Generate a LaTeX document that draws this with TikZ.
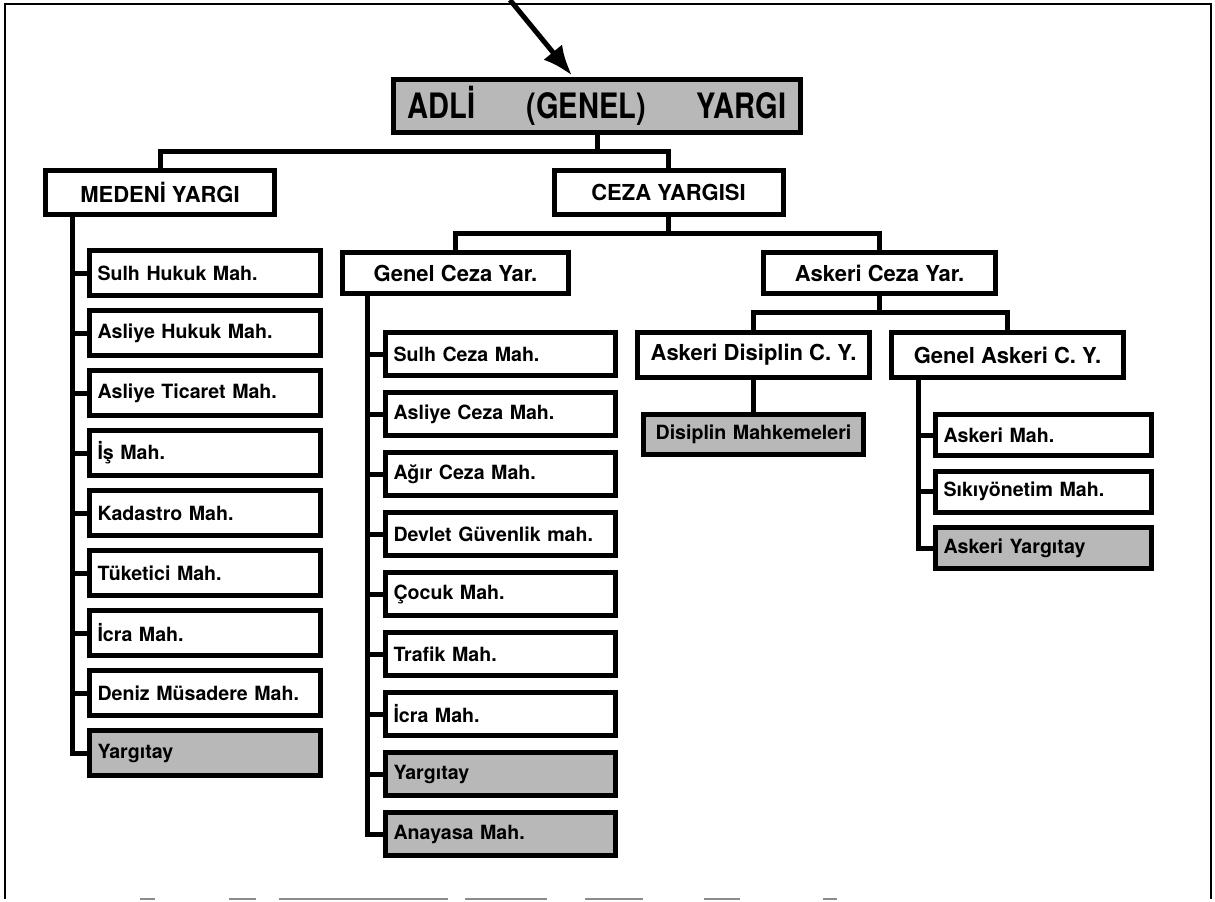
\documentclass[tikz,border=0pt]{standalone}
\usepackage{fontspec}
\setmainfont{TeX Gyre Heros}
\usepackage{tikz}
\usetikzlibrary{arrows.meta}
\tikzstyle{frame} = [draw,line width=1pt]
\tikzstyle{torn} = [draw=black!45,line width=1pt]
\tikzstyle{link} = [draw,line width=2.5pt]
\tikzstyle{pointer} = [draw,line width=2.5pt,shorten >=1pt,-{Latex[length=15pt,width=12pt]}]
\tikzstyle{rootbox} = [draw,line width=2.5pt,fill=black!28,minimum width=203.5pt,minimum height=26.5pt,inner sep=0pt,font=\fontsize{17.5}{19}\selectfont\bfseries\addfontfeature{FakeStretch=0.83}]
\tikzstyle{branch} = [draw,line width=2.5pt,fill=white,minimum width=114.5pt,minimum height=22pt,inner sep=0pt,font=\fontsize{11}{13}\selectfont\bfseries]
\tikzstyle{court} = [draw,line width=2.5pt,align=left,inner xsep=4pt,inner ysep=0pt,font=\fontsize{9.8}{12}\selectfont\bfseries]

\begin{document}
\begin{tikzpicture}[x=0.5pt,y=-0.5pt]
	\useasboundingbox (0,0) rectangle (1215,901);
	\draw[frame] (5,899) -- (5,4) -- (1211,4) -- (1211,899);
	\foreach \a/\b in {140/155, 229/256, 279/448, 465/547, 585/643, 704/740, 823/837}
		\draw[torn] (\a,899) -- (\b,899);

	\node[rootbox] (adli) at (597,106) {ADLİ\hspace{25.5pt}(GENEL)\hspace{25.5pt}YARGI};
	\coordinate (tail) at (510,0);
	\path[pointer] (tail) -- (adli);

	\node[branch] (medeni) at (160,192.5) {MEDENİ YARGI};
	\node[branch] (ceza) at (668.5,192.5) {CEZA YARGISI};
	\node[branch,minimum width=113pt,minimum height=20.5pt] (genelC) at (455.5,273) {Genel Ceza Yar.};
	\node[branch,minimum width=116pt,minimum height=20.5pt] (askeriC) at (879.5,273) {Askeri Ceza Yar.};
	\node[branch,minimum width=116pt,minimum height=22.5pt] (disiplinCY) at (753.5,355) {Askeri Disiplin C. Y.};
	\node[branch,minimum width=116pt,minimum height=22.5pt] (genelA) at (1007.5,355) {Genel Askeri C. Y.};
	\node[court,fill=black!28,align=center,text width=102pt,minimum height=20pt] (disiplinM) at (753.5,434.5) {Disiplin Mahkemeleri};

	% medeni yargi
	\foreach \name/\fillc/\label [count=\i from 0] in {sulhH/white/Sulh Hukuk Mah., asliyeH/white/Asliye Hukuk Mah., ticaret/white/Asliye Ticaret Mah., is/white/İş Mah., kadastro/white/Kadastro Mah., tuketici/white/Tüketici Mah., icraH/white/İcra Mah., deniz/white/Deniz Müsadere Mah., yargitayH/black!28/Yargıtay}
		\node[court,fill=\fillc,text width=107.5pt,minimum height=22.5pt] (\name) at (205,273+60*\i) {\label};

	% genel ceza
	\foreach \name/\fillc/\label [count=\i from 0] in {sulhC/white/Sulh Ceza Mah., asliyeC/white/Asliye Ceza Mah., agir/white/Ağır Ceza Mah., devlet/white/Devlet Güvenlik mah., cocuk/white/Çocuk Mah., trafik/white/Trafik Mah., icraC/white/İcra Mah., yargitayC/black!28/Yargıtay, anayasa/black!28/Anayasa Mah.}
		\node[court,fill=\fillc,text width=107pt,minimum height=21.5pt] (\name) at (500.5,354+60*\i) {\label};

	% genel askeri
	\foreach \name/\fillc/\label [count=\i from 0] in {askeriM/white/Askeri Mah., sikiyonetim/white/Sıkıyönetim Mah., yargitayA/black!28/Askeri Yargıtay}
		\node[court,fill=\fillc,text width=100pt,minimum height=20.5pt] (\name) at (1043.5,435+56.5*\i) {\label};

	\coordinate (mspine) at (72,215);
	\coordinate (gspine) at (367,294);
	\coordinate (aspine) at (918,378);

	\foreach \source/ \dest in {adli/medeni, adli/ceza, ceza/genelC, ceza/askeriC, askeriC/disiplinCY, askeriC/genelA, disiplinCY/disiplinM}
		\path[link] (\source.south) -- ++(0,16) -| (\dest.north);
	\foreach \dest in {sulhH, asliyeH, ticaret, is, kadastro, tuketici, icraH, deniz, yargitayH}
		\path[link] (mspine) |- (\dest.west);
	\foreach \dest in {sulhC, asliyeC, agir, devlet, cocuk, trafik, icraC, yargitayC, anayasa}
		\path[link] (gspine) |- (\dest.west);
	\foreach \dest in {askeriM, sikiyonetim, yargitayA}
		\path[link] (aspine) |- (\dest.west);
\end{tikzpicture}
\end{document}
